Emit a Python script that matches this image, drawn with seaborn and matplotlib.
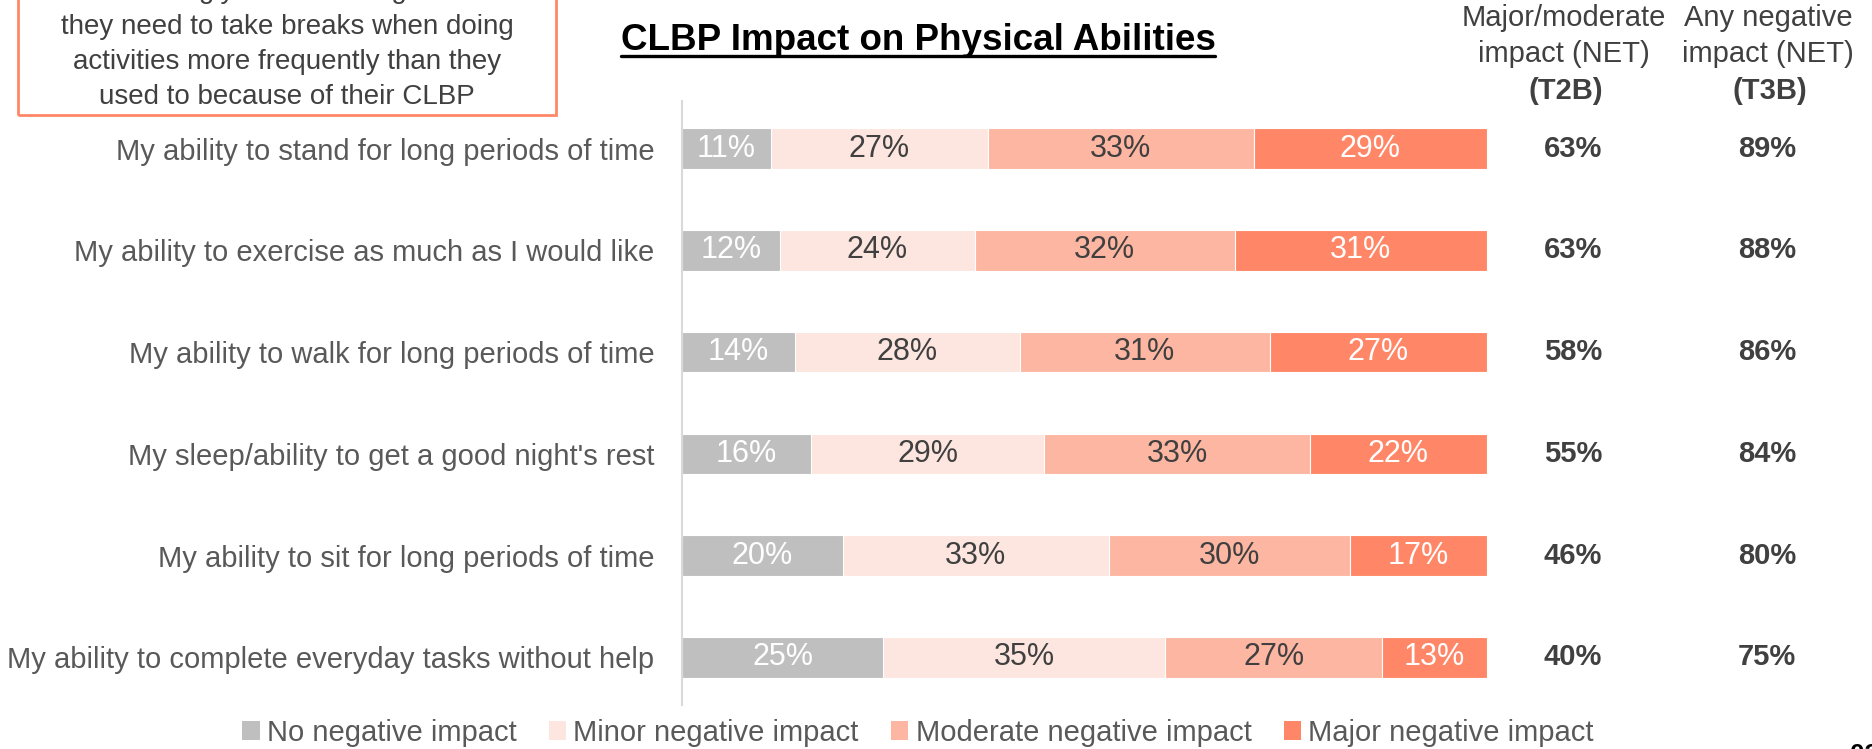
import numpy as np
import pandas as pd
import matplotlib.pyplot as plt
import seaborn as sns
from matplotlib.patches import Patch, Rectangle
from matplotlib.lines import Line2D

# data
items = [
    "My ability to stand for long periods of time",
    "My ability to exercise as much as I would like",
    "My ability to walk for long periods of time",
    "My sleep/ability to get a good night's rest",
    "My ability to sit for long periods of time",
    "My ability to complete everyday tasks without help",
]
no_impact = [11, 12, 14, 16, 20, 25]
minor_impact = [27, 24, 28, 29, 33, 35]
moderate_impact = [33, 32, 31, 33, 30, 27]
major_impact = [29, 31, 27, 22, 17, 13]
t2b = [63, 63, 58, 55, 46, 40]
t3b = [89, 88, 86, 84, 80, 75]

levels = ["No negative impact", "Minor negative impact",
          "Moderate negative impact", "Major negative impact"]
colors = ["#BFBFBF", "#FDE6E0", "#FDB6A1", "#FF8767"]
text_colors = ["white", "#404040", "#404040", "white"]

sns.set_theme(style="white")
plt.rcParams['font.family'] = ['Liberation Sans', 'DejaVu Sans']

FS = 21

df = pd.DataFrame({
    "item": items,
    levels[0]: no_impact,
    levels[1]: minor_impact,
    levels[2]: moderate_impact,
    levels[3]: major_impact,
})
vals = df[levels].to_numpy(dtype=float)
# 100% stacked
shares = vals / vals.sum(axis=1, keepdims=True) * 100
cum = np.cumsum(shares, axis=1)

fig = plt.figure(figsize=(18.72, 7.49), dpi=100)
ax = fig.add_axes([682 / 1872, 1 - 705 / 749, (1487 - 682) / 1872, (705 - 101) / 749])

# draw cumulative bars back to front so they read as stacked segments
for k in range(3, -1, -1):
    plot_df = pd.DataFrame({"item": items, "x": cum[:, k]})
    sns.barplot(data=plot_df, x="x", y="item", orient="h", color=colors[k],
                width=0.4, saturation=1, edgecolor="white", linewidth=0.8, ax=ax)

for i in range(len(items)):
    for k in range(4):
        mid = cum[i, k] - shares[i, k] / 2
        ax.text(mid, i, f"{int(vals[i, k])}%", ha="center", va="center",
                fontsize=22, color=text_colors[k])
    ax.text(1.107, i, f"{t2b[i]}%", transform=ax.get_yaxis_transform(),
            ha="center", va="center", fontsize=21, fontweight="bold",
            color="#404040", clip_on=False)
    ax.text(1.348, i, f"{t3b[i]}%", transform=ax.get_yaxis_transform(),
            ha="center", va="center", fontsize=21, fontweight="bold",
            color="#404040", clip_on=False)

ax.set_xlim(0, 100)
ax.set_ylim(len(items) - 0.53, -0.47)
ax.set_xlabel("")
ax.set_ylabel("")
ax.set_xticks([])
ax.tick_params(axis="y", length=0, pad=20, labelsize=FS, labelcolor="#595959")
for s in ["top", "right", "bottom"]:
    ax.spines[s].set_visible(False)
ax.spines["left"].set_color("#D9D9D9")
ax.spines["left"].set_linewidth(1.5)

# column headers
hdr = dict(ha="center", va="center", fontsize=FS, color="#404040")
fig.text(1564 / 1872, 1 - 18 / 749, "Major/moderate", **hdr)
fig.text(1564 / 1872, 1 - 54 / 749, "impact (NET)", **hdr)
fig.text(1566 / 1872, 1 - 91 / 749, "(T2B)", fontweight="bold", **hdr)
fig.text(1768 / 1872, 1 - 18 / 749, "Any negative", **hdr)
fig.text(1768 / 1872, 1 - 54 / 749, "impact (NET)", **hdr)
fig.text(1770 / 1872, 1 - 91 / 749, "(T3B)", fontweight="bold", **hdr)

# title with underline
title = fig.text(918 / 1872, 1 - 40 / 749, "CLBP Impact on Physical Abilities",
                 ha="center", va="center", fontsize=26.5, fontweight="bold",
                 color="black")
fig.canvas.draw()
bb = title.get_window_extent().transformed(fig.transFigure.inverted())
fig.add_artist(Line2D([bb.x0, bb.x1], [1 - 56 / 749] * 2, color="black",
                      linewidth=2.4, transform=fig.transFigure))

# callout box at top left (cut by the figure edge)
fig.add_artist(Rectangle((18 / 1872, 1 - 115 / 749), (556 - 18) / 1872, 0.3,
                         transform=fig.transFigure, fill=False,
                         edgecolor="#FF8767", linewidth=2))
box_lines = ["70% strongly/somewhat agree that",
             "they need to take breaks when doing",
             "activities more frequently than they",
             "used to because of their CLBP"]
for j, line in enumerate(box_lines):
    fig.text(287 / 1872, 1 - (-9 + 35.5 * j) / 749, line, ha="center",
             va="center", fontsize=20, color="#404040")

# legend
handles = [Patch(facecolor=c, edgecolor="none") for c in colors]
leg = fig.legend(handles, levels, loc="center", bbox_to_anchor=(918 / 1872, 1 - 733 / 749),
                 ncol=4, frameon=False, fontsize=FS, handlelength=0.6,
                 handleheight=0.6, handletextpad=0.25, columnspacing=1.1)
for t in leg.get_texts():
    t.set_color("#595959")

# page number, cut at the corner
fig.text(1850 / 1872, -6 / 749, "03", ha="left", va="center", fontsize=19,
         fontweight="bold", color="black")

fig.savefig("out.png", dpi=100)
